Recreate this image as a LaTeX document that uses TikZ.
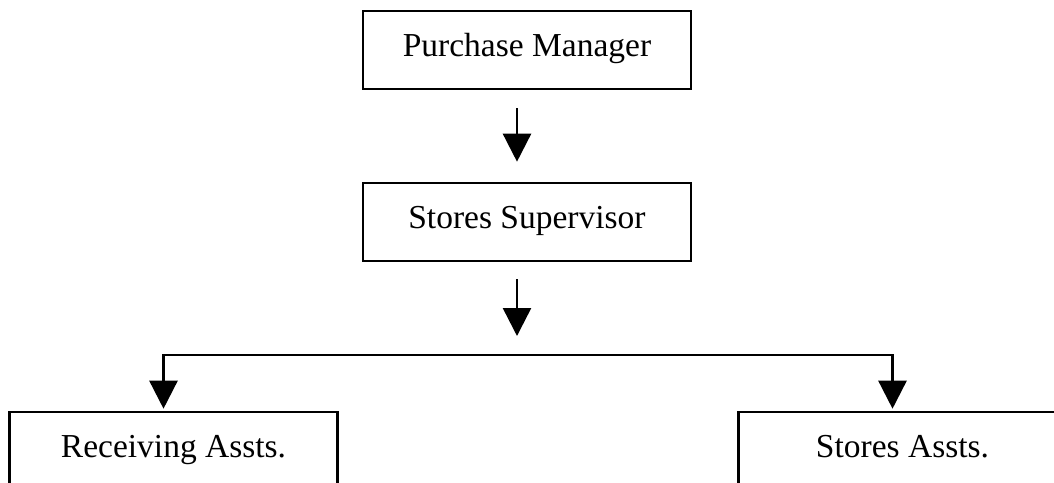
\documentclass[tikz,border=0pt]{standalone}
\usepackage{fontspec}
\setmainfont{Liberation Serif}
\usepackage{tikz}
\usetikzlibrary{arrows.meta}

\begin{document}
\begin{tikzpicture}[x=1pt,y=-1pt,
	box/.style={draw, line width=2.6pt, minimum width=328pt, minimum height=78pt, inner sep=0pt, text height=23pt, text depth=10pt, font=\fontsize{33.5}{40}\selectfont},
	link/.style={line width=2.5pt, -{Triangle[length=28pt,width=28pt]}}]
\clip (0,0) rectangle (1054,482);
\node [box] (pm) at (527,50) {Purchase Manager};
\node [box] (ss) at (527,222) {Stores Supervisor};
\node [box] (ra) at (173.5,451) {Receiving Assts.};
\node [box] (sa) at (902.5,451) {Stores Assts.};
\coordinate (fork) at (517,355);
\draw [link, shorten <=18pt, shorten >=20pt] ([xshift=-10pt]pm.south) -- ([xshift=-10pt]ss.north);
\draw [link, shorten <=17pt, shorten >=19pt] ([xshift=-10pt]ss.south) -- (fork);
\draw [link, shorten >=2pt] (fork) -| ([xshift=-10pt]ra.north);
\draw [link, shorten >=2pt] (fork) -| ([xshift=-10pt]sa.north);
\end{tikzpicture}
\end{document}
